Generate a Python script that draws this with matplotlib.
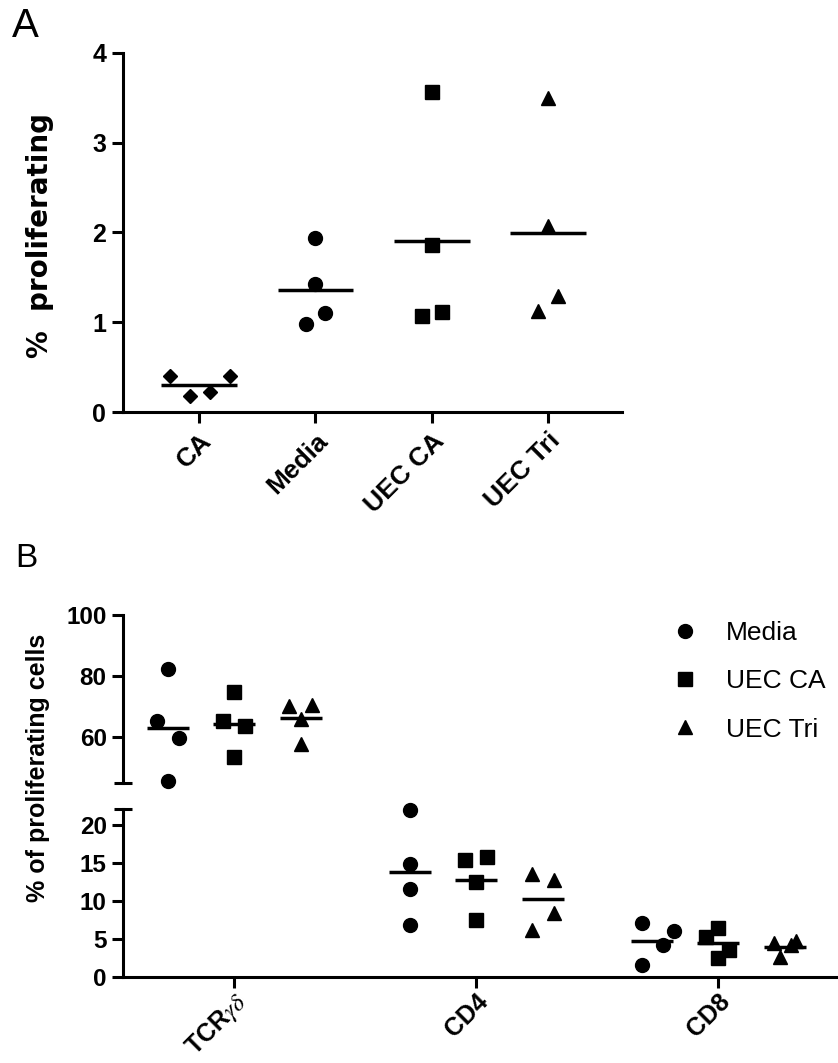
import numpy as np
import matplotlib.pyplot as plt
from matplotlib.lines import Line2D

# ---- panel A: % proliferating ----
a_groups = ["CA", "Media", "UEC CA", "UEC Tri"]
a_ca = [0.40, 0.18, 0.22, 0.40]
a_media = [1.94, 1.43, 1.10, 0.98]
a_uec_ca = [3.57, 1.86, 1.07, 1.11]
a_uec_tri = [3.50, 2.07, 1.29, 1.12]

# ---- panel B: % of proliferating cells ----
b_cells = [r"TCR$\gamma\delta$", "CD4", "CD8"]
b_series = ["Media", "UEC CA", "UEC Tri"]
b_media = [[82.2, 65.2, 59.5, 45.5], [22.0, 14.8, 11.6, 6.8], [7.1, 6.0, 4.2, 1.5]]
b_uec_ca = [[74.8, 65.2, 63.5, 53.4], [15.4, 15.8, 12.5, 7.5], [6.4, 5.3, 3.5, 2.5]]
b_uec_tri = [[70.3, 70.6, 66.0, 57.8], [13.6, 12.7, 8.4, 6.2], [4.4, 4.2, 4.65, 2.6]]

# scatter jitter (layout only)
a_jitter = [[-0.25, -0.08, 0.09, 0.26], [0, 0, 0.086, -0.086],
            [0, 0, -0.086, 0.092], [0, 0, 0.092, -0.086]]
b_offset = [-0.273, 0.0, 0.277]
b_jitter = [
    [[0, -0.045, 0.045, 0], [0, 0, 0, 0], [-0.041, 0.091, 0.045, -0.041]],
    [[0, -0.045, 0.045, 0], [-0.045, 0.045, 0, 0], [0, -0.05, 0.045, 0]],
    [[-0.05, 0.045, 0, 0], [-0.045, 0.045, 0.045, -0.045], [-0.045, 0.025, 0.045, -0.021]],
]

plt.rcParams['font.family'] = ['Liberation Sans', 'DejaVu Sans']
plt.rcParams['mathtext.fontset'] = 'stix'

LW = 2.2
W, H = 838, 1063


def px_axes(l, t, r, b):
    return fig.add_axes([l / W, 1 - b / H, (r - l) / W, (b - t) / H])


def style_axes(ax, bottom=True):
    for s in ['top', 'right']:
        ax.spines[s].set_visible(False)
    ax.spines['left'].set_linewidth(LW)
    ax.spines['bottom'].set_linewidth(LW)
    if not bottom:
        ax.spines['bottom'].set_visible(False)
        ax.tick_params(axis='x', bottom=False, labelbottom=False)
    ax.tick_params(width=LW, length=8, pad=4)
    for lab in ax.get_yticklabels() + ax.get_xticklabels():
        lab.set_fontweight('bold')


fig = plt.figure(figsize=(W / 100, H / 100), dpi=100)

# ---------------- panel A ----------------
axA = px_axes(123, 53, 622, 412)
a_values = [a_ca, a_media, a_uec_ca, a_uec_tri]
a_markers = ['D', 'o', 's', '^']
a_sizes = [7.5, 10, 9.5, 10]
for i, vals in enumerate(a_values):
    x = i + np.array(a_jitter[i])
    axA.plot(x, vals, ls='none', marker=a_markers[i], ms=a_sizes[i],
             color='black', clip_on=False)
    axA.hlines(np.mean(vals), i - 0.327, i + 0.327, color='black', lw=2.5)
axA.set_xlim(-0.658, 3.64)
axA.set_ylim(0, 4)
axA.set_yticks([0, 1, 2, 3, 4])
axA.set_xticks(range(len(a_groups)))
axA.set_xticklabels(a_groups, rotation=45, ha='right', rotation_mode='anchor')
axA.tick_params(axis='y', labelsize=18)
axA.tick_params(axis='x', labelsize=19)
style_axes(axA)

fig.text(40 / W, 1 - 236 / H, "%  proliferating", rotation=90, fontsize=20,
         fontweight='bold', family='DejaVu Sans', ha='center', va='center')
fig.text(12 / W, 1 - 7 / H, "A", fontsize=29, ha='left', va='top')

# ---------------- panel B ----------------
axT = px_axes(123.3, 615, 836, 782.7)
axB = px_axes(123.3, 809.3, 836, 976.7)
b_values = [b_media, b_uec_ca, b_uec_tri]
b_markers = ['o', 's', '^']
b_sizes = [10, 9.5, 10]
for s, series in enumerate(b_values):
    for c, vals in enumerate(series):
        ax = axT if c == 0 else axB
        x = c + b_offset[s] + np.array(b_jitter[s][c])
        ax.plot(x, vals, ls='none', marker=b_markers[s], ms=b_sizes[s],
                color='black', clip_on=False)
        xc = c + b_offset[s]
        ax.hlines(np.mean(vals), xc - 0.088, xc + 0.088, color='black', lw=2.5)

for ax in (axT, axB):
    ax.set_xlim(-0.457, 2.487)
axT.set_ylim(45, 100)
axT.set_yticks([60, 80, 100])
axB.set_ylim(0, 22.08)
axB.set_yticks([0, 5, 10, 15, 20])
axB.set_xticks(range(len(b_cells)))
axB.set_xticklabels(b_cells, rotation=45, ha='right', rotation_mode='anchor')
axT.tick_params(axis='y', labelsize=17.5)
axB.tick_params(axis='y', labelsize=17.5)
axB.tick_params(axis='x', labelsize=18)
style_axes(axT, bottom=False)
style_axes(axB)
axB.tick_params(axis='x', pad=1)

# axis break caps
cap = 9 / (836 - 123.3)
axT.plot([-cap, cap], [45, 45], transform=axT.get_yaxis_transform(),
         color='black', lw=LW, clip_on=False, solid_capstyle='butt')
axB.plot([-cap, cap], [22.08, 22.08], transform=axB.get_yaxis_transform(),
         color='black', lw=LW, clip_on=False, solid_capstyle='butt')

handles = [Line2D([], [], ls='none', marker=m, ms=sz, color='black')
           for m, sz in zip(b_markers, b_sizes)]
fig.legend(handles, b_series, loc='upper left',
           bbox_to_anchor=(672 / W, 1 - 621 / H), frameon=False, fontsize=19,
           handlelength=1.0, handletextpad=1.05, labelspacing=0.92,
           borderpad=0, borderaxespad=0)

fig.text(38 / W, 1 - 768 / H, "% of proliferating cells", rotation=90,
         fontsize=18, fontweight='bold', ha='center', va='center')
fig.text(15 / W, 1 - 543 / H, "B", fontsize=24, ha='left', va='top')

fig.savefig("out.png", dpi=100)
